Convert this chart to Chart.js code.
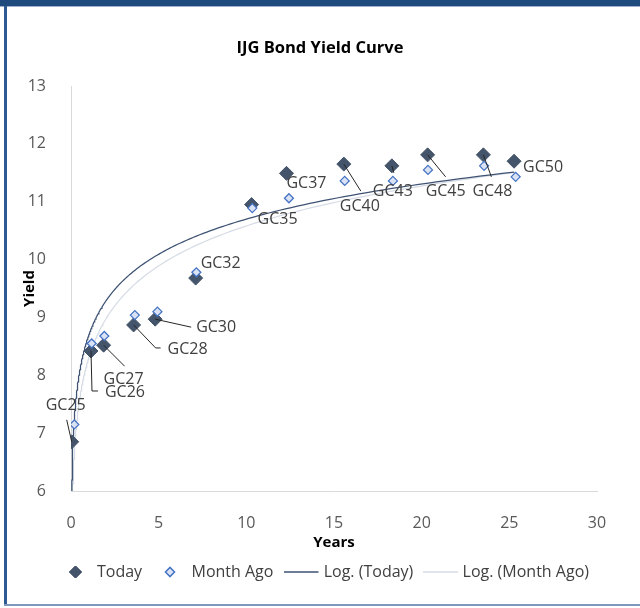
<!DOCTYPE html>
<html>
<head>
<meta charset="utf-8">
<title>IJG Bond Yield Curve</title>
<script src="https://cdn.jsdelivr.net/npm/chart.js@4.4.1/dist/chart.umd.min.js"></script>
<style>
  html, body { margin: 0; padding: 0; background: #fff; }
  #wrap { position: relative; width: 640px; height: 608px; overflow: hidden; }
  #yield-chart { position: absolute; left: 0; top: 0; }
  .edge { position: absolute; pointer-events: none; }
  .edge.top { left: 0; top: 0; width: 640px; height: 6px; background: #1f4a7d; }
  .edge.top2 { left: 0; top: 6px; width: 640px; height: 1px; background: #9db1cc; }
  .edge.left { left: 4px; top: 6px; width: 3px; height: 600px; background: #2d5a92; }
  .edge.bottom { left: 4px; top: 604px; width: 636px; height: 2px; background: #7f97bb; }
</style>
</head>
<body>
<div id="wrap">
  <canvas id="yield-chart" width="640" height="608"></canvas>
  <div class="edge top"></div>
  <div class="edge top2"></div>
  <div class="edge left"></div>
  <div class="edge bottom"></div>
</div>
<script>
// bond names and the values
const bonds = ['GC25', 'GC26', 'GC27', 'GC28', 'GC30', 'GC32', 'GC35', 'GC37', 'GC40', 'GC43', 'GC45', 'GC48', 'GC50'];
const todayYears = [0.04, 1.14, 1.86, 3.57, 4.80, 7.11, 10.30, 12.29, 15.56, 18.30, 20.34, 23.52, 25.27];
const todayYields = [6.85, 8.42, 8.52, 8.87, 8.97, 9.68, 10.95, 11.49, 11.65, 11.62, 11.81, 11.81, 11.70];
const monthYears = [0.19, 1.18, 1.90, 3.64, 4.93, 7.15, 10.34, 12.43, 15.61, 18.36, 20.36, 23.56, 25.36];
const monthYields = [7.15, 8.55, 8.68, 9.04, 9.10, 9.78, 10.89, 11.06, 11.36, 11.36, 11.55, 11.62, 11.43];
const xTicks = [0, 5, 10, 15, 20, 25, 30];
const yTicks = [6, 7, 8, 9, 10, 11, 12, 13];

// where each data label sits relative to its "Today" marker (px), plus leader line path
const labelPlacement = [
    { dx: -26, dy: -36, leader: [[-5, -22]] },
    { dx: 14, dy: 41, leader: [[1, 40], [7, 40]] },
    { dx: 0, dy: 34, leader: [[21, 21]] },
    { dx: 34, dy: 24, leader: [[22, 23], [27, 23]] },
    { dx: 41, dy: 8, leader: [[36, 8]] },
    { dx: 5, dy: -15 },
    { dx: 6, dy: 15 },
    { dx: 0, dy: 10 },
    { dx: -4, dy: 42, leader: [[17, 27]] },
    { dx: -19, dy: 26, leader: [[2, 7]] },
    { dx: -2, dy: 37, leader: [[18, 22]] },
    { dx: -11, dy: 37, leader: [[8, 22]] },
    { dx: 9, dy: 6 }
];

const FONT = '"Open Sans", "DejaVu Sans", sans-serif';
const TEXT = '#404040';

function toPoints(xs, ys) {
    return xs.map((x, i) => ({ x: x, y: ys[i] }));
}

// least squares fit of y = a*ln(x) + b, like the spreadsheet trendline
function logFit(xs, ys) {
    const n = xs.length;
    const lx = xs.map(Math.log);
    const mx = lx.reduce((s, v) => s + v, 0) / n;
    const my = ys.reduce((s, v) => s + v, 0) / n;
    let sxy = 0, sxx = 0;
    for (let i = 0; i < n; i++) {
        sxy += (lx[i] - mx) * (ys[i] - my);
        sxx += (lx[i] - mx) * (lx[i] - mx);
    }
    const a = sxy / sxx;
    const b = my - a * mx;
    return x => a * Math.log(x) + b;
}

function trendLine(xs, ys, xStart) {
    const f = logFit(xs, ys);
    const x1 = Math.max(...xs);
    const pts = [];
    for (let i = 0; i <= 240; i++) {
        const x = xStart * Math.pow(x1 / xStart, i / 240);
        pts.push({ x: x, y: f(x) });
    }
    return pts;
}

const trendStart = Math.min(...todayYears, ...monthYears);

const legendItems = [
    { ds: 0, x: 75.5, r: 6, tx: 97 },
    { ds: 1, x: 170, r: 4.5, tx: 191.5 },
    { ds: 2, x: 284, w: 34.5, tx: 323.7 },
    { ds: 3, x: 423, w: 35, tx: 462.6 }
];

const extrasPlugin = {
    id: 'extras',
    afterDatasetsDraw(chart) {
        const ctx = chart.ctx;
        const meta = chart.getDatasetMeta(0);
        ctx.save();
        ctx.font = '16px ' + FONT;
        ctx.fillStyle = TEXT;
        ctx.strokeStyle = '#262626';
        ctx.lineWidth = 1;
        ctx.textBaseline = 'middle';
        ctx.textAlign = 'left';
        meta.data.forEach((pt, i) => {
            const p = labelPlacement[i];
            if (p.leader) {
                ctx.beginPath();
                ctx.moveTo(pt.x, pt.y);
                p.leader.forEach(([dx, dy]) => ctx.lineTo(pt.x + dx, pt.y + dy));
                ctx.stroke();
            }
            ctx.fillText(bonds[i], pt.x + p.dx, pt.y + p.dy);
        });
        ctx.restore();
    },
    afterDraw(chart) {
        const ctx = chart.ctx;
        ctx.save();
        // title
        ctx.font = 'bold 16.5px ' + FONT;
        ctx.fillStyle = '#000';
        ctx.textAlign = 'center';
        ctx.textBaseline = 'middle';
        ctx.fillText('IJG Bond Yield Curve', 320, 48);

        // legend
        const ly = 572;
        ctx.font = '16px ' + FONT;
        ctx.textAlign = 'left';
        legendItems.forEach(item => {
            const ds = chart.data.datasets[item.ds];
            if (item.w) {
                ctx.strokeStyle = ds.borderColor;
                ctx.lineWidth = 1.5;
                ctx.beginPath();
                ctx.moveTo(item.x, ly);
                ctx.lineTo(item.x + item.w, ly);
                ctx.stroke();
            } else {
                ctx.fillStyle = ds.backgroundColor;
                ctx.strokeStyle = ds.borderColor;
                ctx.lineWidth = ds.borderWidth;
                Chart.helpers.drawPoint(ctx, { pointStyle: 'rectRot', radius: item.r, rotation: 0, borderWidth: ds.borderWidth }, item.x, ly);
                ctx.fill();
                ctx.stroke();
            }
            ctx.fillStyle = TEXT;
            ctx.fillText(ds.label, item.tx, ly);
        });
        ctx.restore();
    }
};

const ctx = document.getElementById('yield-chart').getContext('2d');
const chart = new Chart(ctx, {
    type: 'scatter',
    data: {
        datasets: [{
            label: 'Today',
            data: toPoints(todayYears, todayYields),
            pointStyle: 'rectRot',
            pointRadius: 7,
            backgroundColor: '#44546a',
            borderColor: '#44546a',
            borderWidth: 1,
            order: 1
        }, {
            label: 'Month Ago',
            data: toPoints(monthYears, monthYields),
            pointStyle: 'rectRot',
            pointRadius: 4.5,
            backgroundColor: '#dae3f3',
            borderColor: '#4472c4',
            borderWidth: 1.25,
            order: 0
        }, {
            label: 'Log. (Today)',
            type: 'line',
            data: trendLine(todayYears, todayYields, trendStart),
            borderColor: '#3e5273',
            borderWidth: 1.25,
            pointRadius: 0,
            fill: false,
            tension: 0,
            clip: 0,
            order: 2
        }, {
            label: 'Log. (Month Ago)',
            type: 'line',
            data: trendLine(monthYears, monthYields, trendStart),
            borderColor: '#d6dce5',
            borderWidth: 1.25,
            pointRadius: 0,
            fill: false,
            tension: 0,
            clip: 0,
            order: 3
        }]
    },
    options: {
        responsive: false,
        animation: false,
        events: [],
        layout: { padding: { top: 86, right: 43, bottom: 56, left: 0 } },
        plugins: {
            legend: { display: false },
            title: { display: false },
            tooltip: { enabled: false }
        },
        scales: {
            x: {
                type: 'linear',
                min: xTicks[0],
                max: xTicks[xTicks.length - 1],
                afterBuildTicks: axis => { axis.ticks = xTicks.map(v => ({ value: v })); },
                afterFit: axis => { axis.height = 61; },
                grid: { display: false },
                border: { display: true, color: '#d9d9d9', width: 1 },
                ticks: { color: '#595959', padding: 15, font: { family: FONT, size: 16 } },
                title: {
                    display: true,
                    text: 'Years',
                    color: '#000',
                    padding: { top: 0, bottom: 0 },
                    font: { family: FONT, size: 15, weight: 'bold' }
                }
            },
            y: {
                type: 'linear',
                min: yTicks[0],
                max: yTicks[yTicks.length - 1],
                afterBuildTicks: axis => { axis.ticks = yTicks.map(v => ({ value: v })); },
                afterFit: axis => { axis.width = 71; },
                grid: { display: false },
                border: { display: true, color: '#d9d9d9', width: 1 },
                ticks: { color: '#595959', padding: 17, font: { family: FONT, size: 16 } },
                title: {
                    display: true,
                    text: 'Yield',
                    color: '#000',
                    padding: { top: 21, bottom: 0 },
                    font: { family: FONT, size: 15, weight: 'bold' }
                }
            }
        }
    },
    plugins: [extrasPlugin]
});
</script>
</body>
</html>
